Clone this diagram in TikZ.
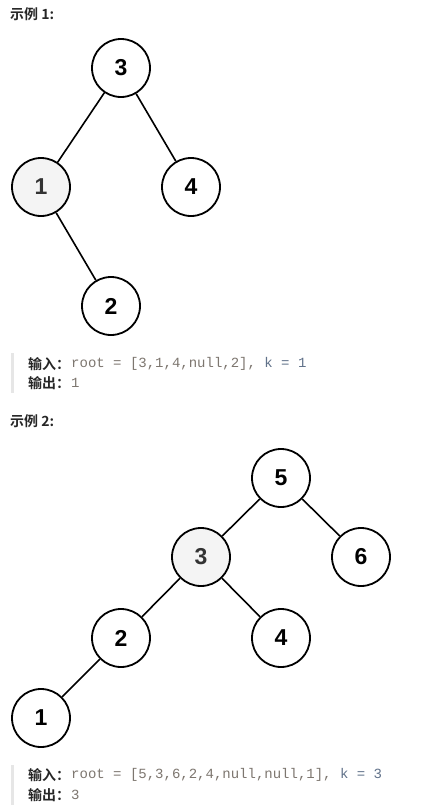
\documentclass[tikz,border=0pt]{standalone}
\usepackage{fontspec}
\setmainfont{Liberation Sans}
\setmonofont{Liberation Mono}
\newfontfamily\cjk{Noto Sans CJK SC}[BoldFont={Noto Sans CJK SC Bold}]
\definecolor{nodegray}{HTML}{F4F4F4}
\definecolor{titlec}{HTML}{262626}
\definecolor{codec}{HTML}{7D766F}
\definecolor{codeb}{HTML}{61728A}
\definecolor{barc}{HTML}{E6E6E6}
\tikzset{
  tn/.style={circle,draw=black,line width=1.8pt,minimum size=58pt,inner sep=0pt,fill=white,
    font=\fontsize{23}{23}\selectfont\bfseries,text=black},
  tnh/.style={tn,fill=nodegray,text={black!80}},
  edge/.style={line width=1.6pt,black},
  ttl/.style={anchor=west,inner sep=0pt,font=\cjk\bfseries\fontsize{14}{14}\selectfont,text=titlec},
  lbl/.style={anchor=west,inner sep=0pt,font=\cjk\bfseries\fontsize{14}{14}\selectfont,text=titlec},
  code/.style={anchor=west,inner sep=0pt,font=\ttfamily\fontsize{14}{14}\selectfont,text=codec},
  qbar/.style={fill=barc,draw=none}
}
\begin{document}
\begin{tikzpicture}[x=1pt,y=-1pt]
\useasboundingbox[fill=white] (0,0) rectangle (443,811);
% Example 1
\node[ttl] (t1) at (10,14) {示例 1:};
\node[tn] (a3) at (121,68) {3};
\node[tnh] (a1) at (41,187) {1};
\node[tn] (a4) at (191,187) {4};
\node[tn] (a2) at (111,306) {2};
\draw[edge] (a3) -- (a1);
\draw[edge] (a3) -- (a4);
\draw[edge] (a1) -- (a2);
\fill[qbar] (11,353) rectangle (14,393);
\node[lbl] (in1) at (28,364) {输入：};
\node[code] (c1) at (71,364) {root = [3,1,4,null,2],\ \textcolor{codeb}{k = 1}};
\node[lbl] (out1) at (28,383) {输出：};
\node[code] (o1) at (71,383) {1};
% Example 2
\node[ttl] (t2) at (10,421) {示例 2:};
\node[tn] (b5) at (281,478) {5};
\node[tnh] (b3) at (201,557) {3};
\node[tn] (b6) at (361,557) {6};
\node[tn] (b2) at (121,638) {2};
\node[tn] (b4) at (281,638) {4};
\node[tn] (b1) at (41,718) {1};
\draw[edge] (b5) -- (b3);
\draw[edge] (b5) -- (b6);
\draw[edge] (b3) -- (b2);
\draw[edge] (b3) -- (b4);
\draw[edge] (b2) -- (b1);
\fill[qbar] (11,765) rectangle (14,805);
\node[lbl] (in2) at (28,775) {输入：};
\node[code] (c2) at (71,775) {root = [5,3,6,2,4,null,null,1],\ \textcolor{codeb}{k = 3}};
\node[lbl] (out2) at (28,795) {输出：};
\node[code] (o2) at (71,795) {3};
\end{tikzpicture}
\end{document}
